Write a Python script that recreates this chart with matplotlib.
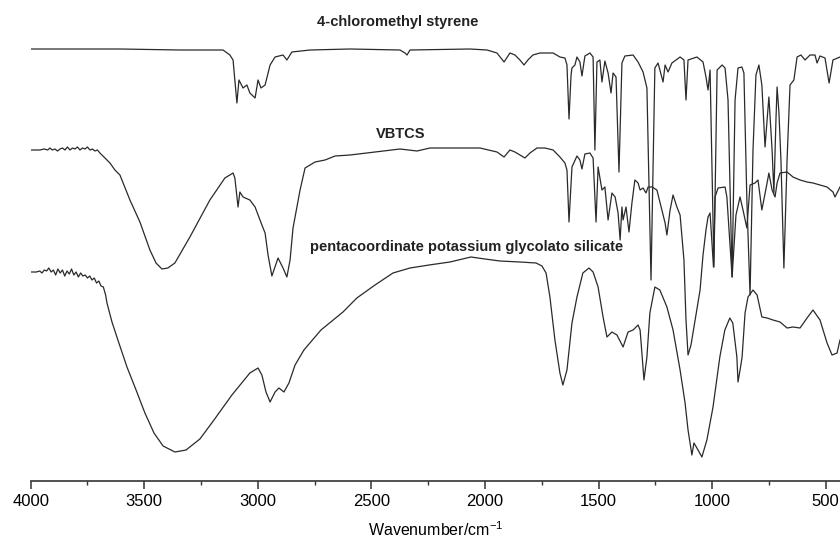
import matplotlib.pyplot as plt
from matplotlib.ticker import MultipleLocator

# IR spectra (wavenumber in cm-1, signal in offset a.u.)
wn_cms = [4000, 3871, 3607, 3343, 3153, 3123, 3109, 3092, 3083, 3065, 3048, 3035, 3012, 2999,
          2986, 2968, 2946, 2924, 2889, 2872, 2850, 2770, 2594, 2374, 2352, 2343, 2330, 2066,
          1991, 1947, 1916, 1890, 1868, 1846, 1828, 1811, 1789, 1758, 1700, 1670, 1648, 1639,
          1630, 1621, 1617, 1604, 1595, 1582, 1573, 1560, 1538, 1524, 1516, 1507, 1494, 1485,
          1472, 1458, 1445, 1436, 1423, 1410, 1397, 1384, 1348, 1326, 1304, 1287, 1269, 1252,
          1238, 1216, 1207, 1194, 1177, 1141, 1124, 1115, 1106, 1067, 1040, 1027, 1018, 1009,
          992, 978, 956, 943, 930, 912, 899, 886, 869, 860, 847, 833, 820, 807, 794, 781, 767,
          758, 750, 736, 728, 719, 714, 706, 697, 684, 670, 657, 640, 626, 609, 591, 569, 547,
          538, 525, 503, 485, 468, 437]
t_cms = [432, 432, 432, 431, 431, 426, 421, 378, 401, 393, 396, 388, 383, 401,
         393, 396, 416, 424, 426, 421, 429, 431, 432, 431, 428, 426, 431, 432,
         431, 428, 419, 428, 426, 421, 416, 421, 426, 428, 428, 424, 423, 416,
         362, 406, 413, 416, 424, 419, 405, 425, 428, 424, 331, 419, 421, 399,
         420, 408, 388, 408, 404, 309, 418, 425, 426, 419, 409, 393, 201, 413,
         418, 399, 416, 409, 418, 424, 421, 381, 421, 424, 419, 404, 391, 411,
         214, 411, 416, 413, 381, 204, 381, 413, 414, 408, 281, 186, 331, 406, 416, 396, 334,
         361, 384, 331, 288, 361, 394, 369, 321, 213, 321, 396, 401, 424, 426, 421, 426, 426,
         418, 425, 423, 398, 421, 424]

wn_vbtcs = [4000, 3960, 3940, 3925, 3915, 3905, 3893, 3882, 3871, 3860, 3849, 3838, 3827,
            3816, 3805, 3794, 3783, 3772, 3761, 3750, 3739, 3728, 3717, 3706, 3695,
            3673, 3651, 3629, 3607, 3563, 3519, 3475, 3448, 3422, 3396, 3365, 3299, 3211,
            3145, 3109, 3101, 3087, 3079, 3065, 3035, 3012, 2982, 2968, 2955, 2938, 2911,
            2889, 2872, 2858, 2845, 2814, 2792, 2748, 2704, 2660, 2594, 2374, 2299, 2242,
            2022, 1947, 1916, 1890, 1868, 1824, 1802, 1771, 1736, 1700, 1670, 1648, 1639,
            1630, 1617, 1595, 1582, 1573, 1560, 1538, 1524, 1511, 1502, 1485, 1472, 1458,
            1441, 1427, 1414, 1405, 1397, 1392, 1379, 1366, 1353, 1340, 1326, 1317, 1304,
            1291, 1282, 1265, 1243, 1221, 1207, 1199, 1185, 1172, 1155, 1141, 1124, 1115,
            1106, 1093, 1075, 1053, 1040, 1027, 1018, 1009, 994, 987, 974, 943, 935, 912,
            895, 877, 864, 847, 833, 811, 798, 781, 758, 750, 736, 723, 714, 701, 670, 644,
            613, 582, 556, 525, 494, 468, 459, 437]
t_vbtcs = [331, 331, 332, 331, 333, 331, 332, 330, 332, 333, 331, 334, 331,
           333, 332, 334, 331, 333, 332, 334, 331, 332, 330, 331, 328,
           323, 318, 311, 306, 281, 259, 231, 218, 212, 213, 218, 244, 281,
           303, 308, 303, 274, 289, 284, 281, 274, 256, 248, 226, 205, 223,
           213, 204, 221, 253, 291, 313, 319, 321, 325, 326, 332, 330, 333,
           333, 329, 324, 331, 329, 323, 328, 333, 333, 331, 324, 318, 311,
           259, 314, 325, 321, 312, 327, 328, 323, 259, 314, 291, 294, 261,
           288, 284, 268, 241, 274, 261, 274, 249, 278, 301, 298, 291, 293,
           288, 294, 294, 291, 271, 258, 246, 271, 286, 274, 266, 221, 161,
           126, 136, 161, 191, 226, 251, 264, 268, 214, 284, 293, 294, 284, 204,
           266, 284, 271, 253, 296, 298, 301, 271, 298, 308, 291, 284, 298, 308, 309, 304,
           301, 299, 298, 296, 294, 289, 284, 294]

wn_silicate = [4000, 3975, 3960, 3950, 3940, 3930, 3920, 3910, 3900, 3890, 3880, 3870, 3860,
               3850, 3840, 3830, 3820, 3810, 3800, 3790, 3780, 3770, 3760, 3750, 3740, 3730,
               3720, 3710, 3700, 3690, 3680, 3670, 3664, 3642, 3616, 3576, 3536, 3497, 3457,
               3417, 3365, 3316, 3255, 3193, 3114, 3035, 2999, 2982, 2964, 2946, 2924, 2907,
               2885, 2863, 2836, 2797, 2722, 2625, 2564, 2484, 2405, 2330, 2246, 2154, 2062,
               2000, 1934, 1846, 1775, 1749, 1731, 1714, 1692, 1670, 1657, 1639, 1617, 1595,
               1569, 1542, 1524, 1502, 1480, 1463, 1441, 1419, 1392, 1370, 1348, 1326, 1317,
               1300, 1287, 1274, 1252, 1230, 1199, 1172, 1141, 1119, 1106, 1089, 1080, 1067,
               1045, 1023, 996, 966, 944, 922, 909, 891, 886, 877, 868, 855, 842, 820, 802,
               781, 758, 732, 701, 670, 644, 613, 582, 556, 525, 494, 472, 450, 437]
t_silicate = [209, 209, 210, 208, 211, 210, 213, 209, 211, 206, 212, 208, 211,
              205, 210, 207, 212, 206, 209, 204, 208, 205, 206, 203, 205, 201,
              203, 198, 200, 195, 194, 186, 178, 159, 141, 114, 91, 68, 48,
              35, 29, 31, 42, 61, 86, 108, 113, 106, 89, 79, 89, 93,
              89, 98, 116, 131, 151, 169, 183, 196, 208, 213, 216, 219, 224,
              222, 220, 219, 218, 215, 208, 184, 141, 108, 96, 111, 158, 184,
              208, 213, 209, 194, 164, 144, 149, 146, 134, 149, 151, 156, 151,
              101, 124, 168, 194, 191, 174, 151, 111, 78, 51, 26, 38, 33,
              24, 41, 74, 124, 151, 163, 158, 124, 99, 111, 124, 168, 184, 191, 186,
              164, 163, 161, 159, 153, 154, 153, 163, 171, 161, 138, 126, 128, 141]

names = ["4-chloromethyl styrene", "VBTCS", "pentacoordinate potassium glycolato silicate"]

plt.rcParams['font.family'] = ['Liberation Sans', 'DejaVu Sans']
plt.rcParams['mathtext.default'] = 'regular'

fig = plt.figure(figsize=(8.4, 5.44), dpi=100)
ax = fig.add_axes([0.0365, 0.1158, 0.9635, 0.8842])

line_col = '#2a2a2a'
ax.plot(wn_cms, t_cms, color=line_col, lw=0.9)
ax.plot(wn_vbtcs, t_vbtcs, color=line_col, lw=0.9)
ax.plot(wn_silicate, t_silicate, color=line_col, lw=0.9)

ax.text(2383, 459, names[0], ha='center', va='center', fontsize=10.5, fontweight='bold', color='#222222')
ax.text(2370, 347, names[1], ha='center', va='center', fontsize=10.5, fontweight='bold', color='#222222')
ax.text(2079, 234, names[2], ha='center', va='center', fontsize=10.5, fontweight='bold', color='#222222')

ax.set_xlim(4000, 437)
ax.set_ylim(0, 481)
for s in ['top', 'right', 'left']:
    ax.spines[s].set_visible(False)
ax.spines['bottom'].set_linewidth(1.2)
ax.spines['bottom'].set_color('#333333')
ax.set_yticks([])
ax.xaxis.set_major_locator(MultipleLocator(500))
ax.xaxis.set_minor_locator(MultipleLocator(250))
ax.tick_params(axis='x', which='major', direction='out', length=5.5, width=1.1,
               color='#333333', labelsize=12, pad=4)
ax.tick_params(axis='x', which='minor', direction='out', length=3, width=1.0, color='#333333')
ax.set_xlabel('Wavenumber/cm$^{-1}$', fontsize=11.5, labelpad=8)

fig.savefig('out.png', dpi=100)
